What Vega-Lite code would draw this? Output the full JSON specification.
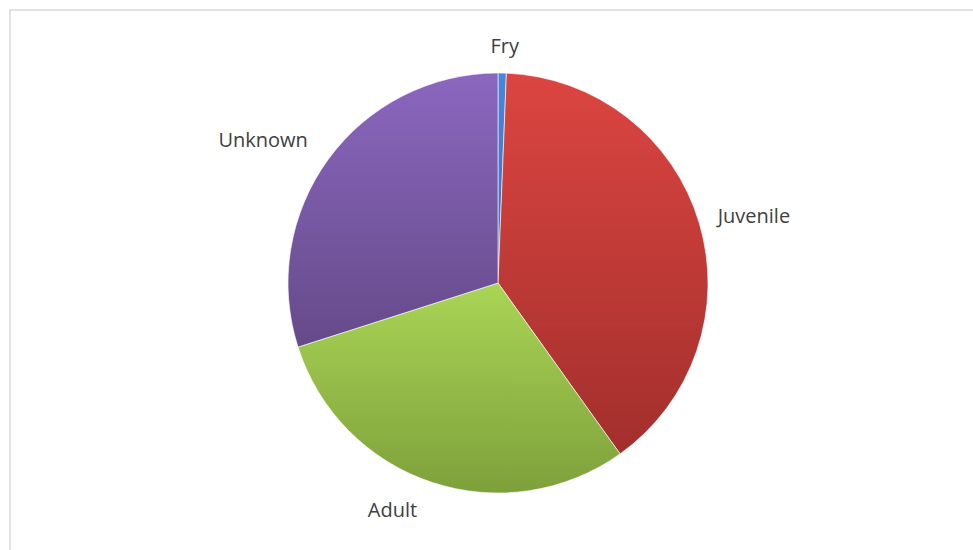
{
  "$schema": "https://vega.github.io/schema/vega-lite/v6.json",
  "width": 976,
  "height": 546,
  "autosize": {"type": "none"},
  "padding": {"left": 10, "top": 10, "right": 0, "bottom": 0},
  "background": "white",
  "view": {"stroke": "#d9d9d9", "strokeWidth": 1.5, "fill": "white"},
  "data": {
    "values": [
      {"stage": "Fry", "count": 1},
      {"stage": "Juvenile", "count": 62},
      {"stage": "Adult", "count": 47},
      {"stage": "Unknown", "count": 47}
    ]
  },
  "transform": [
    {"window": [{"op": "row_number", "as": "idx"}]},
    {"stack": "count", "groupby": [], "sort": [{"field": "idx", "order": "ascending"}], "as": ["t0", "t1"]},
    {"calculate": "(datum.t0 + datum.t1) / 2", "as": "tm"}
  ],
  "layer": [
    {
      "transform": [{"filter": "datum.stage === 'Fry'"}],
      "mark": {"type": "arc", "outerRadius": 210, "stroke": "white", "strokeWidth": 0.6,
        "fill": {"gradient": "linear", "x1": 0, "y1": 0, "x2": 0, "y2": 1, "stops": [{"offset": 0, "color": "#4a86d8"}, {"offset": 1, "color": "#3a70c0"}]}},
      "encoding": {
        "theta": {"field": "t0", "type": "quantitative", "scale": {"domain": [0, 157]}},
        "theta2": {"field": "t1"}
      }
    },
    {
      "transform": [{"filter": "datum.stage === 'Juvenile'"}],
      "mark": {"type": "arc", "outerRadius": 210, "stroke": "white", "strokeWidth": 0.6,
        "fill": {"gradient": "linear", "x1": 0, "y1": 0, "x2": 0, "y2": 1, "stops": [{"offset": 0, "color": "#dc4541"}, {"offset": 1, "color": "#a22f2c"}]}},
      "encoding": {
        "theta": {"field": "t0", "type": "quantitative"},
        "theta2": {"field": "t1"}
      }
    },
    {
      "transform": [{"filter": "datum.stage === 'Adult'"}],
      "mark": {"type": "arc", "outerRadius": 210, "stroke": "white", "strokeWidth": 0.6,
        "fill": {"gradient": "linear", "x1": 0, "y1": 0, "x2": 0, "y2": 1, "stops": [{"offset": 0, "color": "#a9d555"}, {"offset": 1, "color": "#7ea03b"}]}},
      "encoding": {
        "theta": {"field": "t0", "type": "quantitative"},
        "theta2": {"field": "t1"}
      }
    },
    {
      "transform": [{"filter": "datum.stage === 'Unknown'"}],
      "mark": {"type": "arc", "outerRadius": 210, "stroke": "white", "strokeWidth": 0.6,
        "fill": {"gradient": "linear", "x1": 0, "y1": 0, "x2": 0, "y2": 1, "stops": [{"offset": 0, "color": "#8b67bf"}, {"offset": 1, "color": "#654a89"}]}},
      "encoding": {
        "theta": {"field": "t0", "type": "quantitative"},
        "theta2": {"field": "t1"}
      }
    },
    {
      "transform": [{"filter": "datum.stage === 'Fry'"}],
      "mark": {"type": "text", "font": "Open Sans", "fontSize": 20, "fill": "#404040", "radius": 236, "dx": 2},
      "encoding": {
        "theta": {"field": "tm", "type": "quantitative"},
        "text": {"field": "stage", "type": "nominal"}
      }
    },
    {
      "transform": [{"filter": "datum.stage === 'Juvenile'"}],
      "mark": {"type": "text", "font": "Open Sans", "fontSize": 20, "fill": "#404040", "radius": 266, "dx": 1, "dy": 10},
      "encoding": {
        "theta": {"field": "tm", "type": "quantitative"},
        "text": {"field": "stage", "type": "nominal"}
      }
    },
    {
      "transform": [{"filter": "datum.stage === 'Adult'"}],
      "mark": {"type": "text", "font": "Open Sans", "fontSize": 20, "fill": "#404040", "radius": 240, "dx": -30},
      "encoding": {
        "theta": {"field": "tm", "type": "quantitative"},
        "text": {"field": "stage", "type": "nominal"}
      }
    },
    {
      "transform": [{"filter": "datum.stage === 'Unknown'"}],
      "mark": {"type": "text", "font": "Open Sans", "fontSize": 20, "fill": "#404040", "radius": 266, "dx": -20, "dy": 15},
      "encoding": {
        "theta": {"field": "tm", "type": "quantitative"},
        "text": {"field": "stage", "type": "nominal"}
      }
    }
  ]
}
